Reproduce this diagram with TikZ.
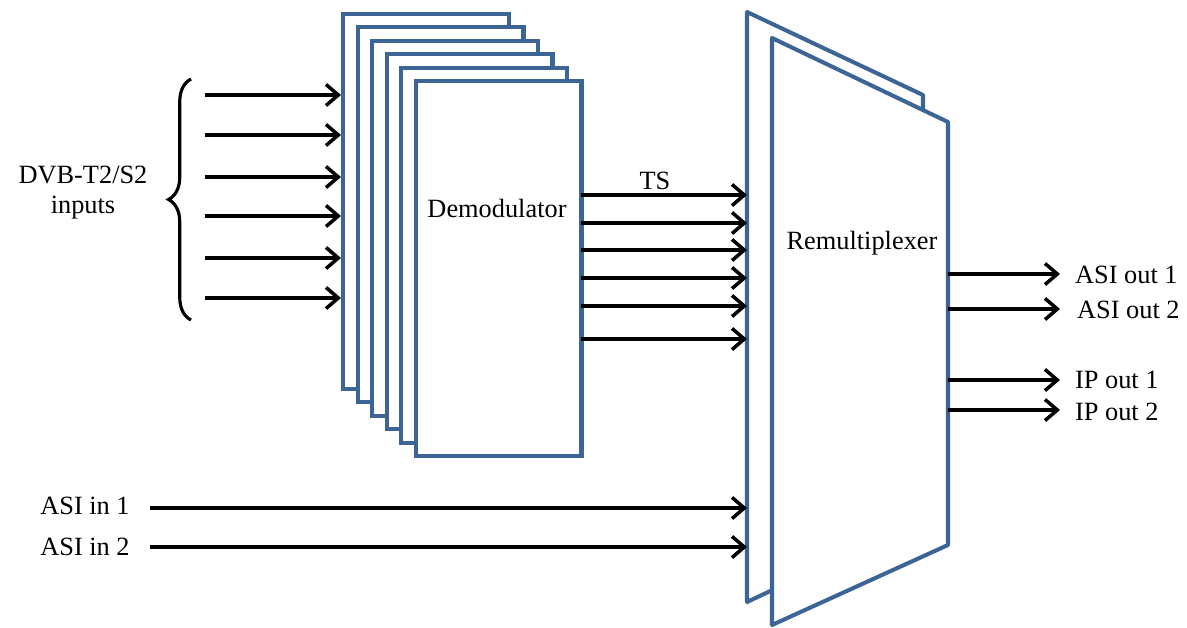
\documentclass[tikz,border=0pt]{standalone}
\usepackage{fontspec}
\setmainfont{Liberation Serif}
\usetikzlibrary{arrows.meta,positioning,decorations.pathreplacing}
\definecolor{boxblue}{HTML}{3C6494}
\tikzset{
  demod/.style={draw=boxblue, line width=2.3pt, fill=white, rectangle,
    minimum width=3.32cm, minimum height=7.5cm, anchor=north west, inner sep=0pt},
  remux/.style={draw=boxblue, line width=2.3pt, fill=white, line join=round},
  sig/.style={-{Straight Barb[length=7pt,width=12pt]}, line width=2pt, black},
  lbl/.style={font=\fontsize{15}{17}\selectfont, inner sep=1pt}
}
\begin{document}
\begin{tikzpicture}[x=0.02cm, y=-0.02cm]
        \useasboundingbox (0,0) rectangle (1187,628);

         % Schede demodulatore
        \foreach \i in {0,...,5}
          \node[demod] (d\i) at ({341+14.5*\i},{12+13.4*\i}) {};
        \node[lbl] (demodlbl) at (497,208) {Demodulator};

         % Remultiplexer
        \draw[remux] (747,12) -- (923,95) -- (923,519) -- (747,602) -- cycle;
        \draw[remux] (772,38) -- (948,122) -- (948,545) -- (772,625) -- cycle;
        \coordinate (rxw) at (747,300);
        \coordinate (rxe) at (948,300);
        \node[lbl] (remuxlbl) at (862,243) {Remultiplexer};

         % Ingressi DVB
        \foreach \y [count=\k] in {95,135,177,216,258,298} {
          \coordinate (in\k) at (205,\y);
          \draw[sig] (in\k) -- (in\k -| d0.west);
        }
        \draw[line width=1.8pt, decorate, decoration={brace, amplitude=0.45cm}] (191,320) -- (191,79);
        \node[lbl, align=center] (dvb) at (83,193) {DVB-T2/S2\\inputs};

         % Uscite TS
        \node[lbl] (tslbl) at (655,181) {TS};
        \foreach \y [count=\k] in {195,223,250,278,306,339} {
          \coordinate (ts\k) at (581,\y);
          \draw[sig] (ts\k) -- (ts\k -| rxw);
        }

         % Ingressi ASI
        \node[lbl] (ain1) at (85,506) {ASI in 1};
        \node[lbl] (ain2) at (85,547) {ASI in 2};
        \draw[sig] (150,508) coordinate (a1) -- (a1 -| rxw);
        \draw[sig] (150,547) coordinate (a2) -- (a2 -| rxw);

         % Uscite
        \node[lbl, anchor=west] (aout1) at (1073,275) {ASI out 1};
        \node[lbl, anchor=west] (aout2) at (1075,310) {ASI out 2};
        \node[lbl, anchor=west] (ipout1) at (1073,380) {IP out 1};
        \node[lbl, anchor=west] (ipout2) at (1073,412) {IP out 2};
        \foreach \o/\y in {aout1/274,aout2/309,ipout1/380,ipout2/410} {
          \coordinate (o\o) at (1060,\y);
          \draw[sig] (o\o -| rxe) -- (o\o);
        }
    \end{tikzpicture}
\end{document}
